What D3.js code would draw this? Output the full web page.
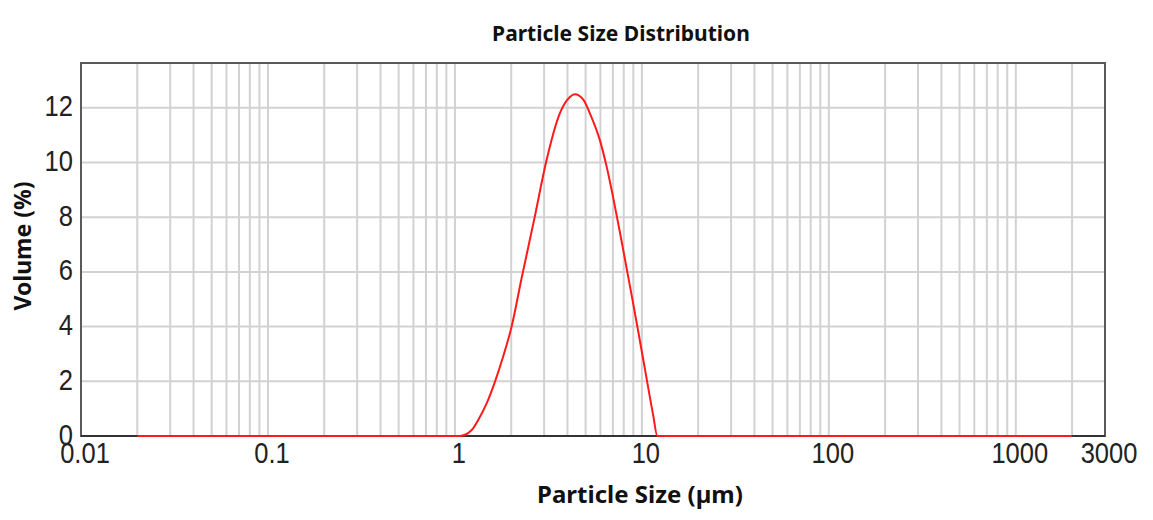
<!DOCTYPE html>
<html>
<head>
<meta charset="utf-8">
<script src="https://cdn.jsdelivr.net/npm/d3@7"></script>
<style>
  body { margin: 0; background: #fff; }
  svg { display: block; }
</style>
</head>
<body>
<svg id="chart" width="1153" height="520"></svg>
<script>
// particle size classes (µm) and volume (%)
const sizes = [0.02, 1.06, 1.23, 1.33, 1.48, 1.64, 1.81, 2.01, 2.27, 2.68, 3.07, 3.64, 4.12, 4.38,
  4.86, 5.27, 5.96, 6.48, 7.03, 7.63, 8.28, 8.98, 9.75, 10.6, 11.5, 12.1, 2000];
const volumes = [0, 0, 0.22, 0.58, 1.2, 2.0, 2.9, 4.0, 5.75, 8.05, 10.0, 11.8, 12.4, 12.5,
  12.3, 11.8, 10.82, 9.85, 8.7, 7.45, 6.15, 4.85, 3.5, 2.1, 0.75, 0, 0];

const xTicks = [0.01, 0.1, 1, 10, 100, 1000, 3000];
const yTicks = [0, 2, 4, 6, 8, 10, 12];
const xDomain = [0.01, 3000];
const yMax = 13.64;

const svg = d3.select('#chart');
const plot = { left: 81, right: 1105, top: 63, bottom: 436 };

const x = d3.scaleLog().domain(xDomain).range([plot.left, plot.right]);
const y = d3.scaleLinear().domain([0, yMax]).range([plot.bottom, plot.top]);

// grid: 1..9 of each decade
const gridX = [];
for (let e = -2; e <= 3; e++) {
  for (let m = 1; m <= 9; m++) {
    const v = m * Math.pow(10, e);
    if (v > xDomain[0] && v < xDomain[1]) gridX.push(v);
  }
}

svg.append('g')
  .selectAll('line')
  .data(gridX)
  .enter()
  .append('line')
  .attr('x1', d => x(d))
  .attr('x2', d => x(d))
  .attr('y1', plot.top)
  .attr('y2', plot.bottom)
  .style('stroke', '#d2d2d2')
  .style('stroke-width', 2);

svg.append('g')
  .selectAll('line')
  .data(yTicks.filter(d => d > 0))
  .enter()
  .append('line')
  .attr('x1', plot.left)
  .attr('x2', plot.right)
  .attr('y1', d => y(d))
  .attr('y2', d => y(d))
  .style('stroke', '#d2d2d2')
  .style('stroke-width', 2);

// frame
svg.append('rect')
  .attr('x', plot.left)
  .attr('y', plot.top)
  .attr('width', plot.right - plot.left)
  .attr('height', plot.bottom - plot.top)
  .style('fill', 'none')
  .style('stroke', '#5a5a5a')
  .style('stroke-width', 2);

svg.append('line')
  .attr('x1', plot.left)
  .attr('x2', plot.right)
  .attr('y1', plot.bottom)
  .attr('y2', plot.bottom)
  .style('stroke', '#333')
  .style('stroke-width', 2);

// the distribution curve
const line = d3.line()
  .x((d, i) => x(sizes[i]))
  .y(d => y(d))
  .curve(d3.curveMonotoneX);

svg.append('path')
  .datum(volumes)
  .attr('d', line)
  .style('fill', 'none')
  .style('stroke', '#ff1a1a')
  .style('stroke-width', 2);

// tick labels
const tickFont = '"Liberation Sans", Arial, sans-serif';

svg.append('g')
  .selectAll('text')
  .data(xTicks)
  .enter()
  .append('text')
  .text(d => d)
  .attr('transform', d => `translate(${x(d) + 4},463) scale(0.88,1)`)
  .attr('text-anchor', 'middle')
  .style('font-family', tickFont)
  .style('font-size', '29px')
  .style('fill', '#222');

svg.append('g')
  .selectAll('text')
  .data(yTicks)
  .enter()
  .append('text')
  .text(d => d)
  .attr('transform', d => `translate(73,${y(d) + 8.5}) scale(0.88,1)`)
  .attr('text-anchor', 'end')
  .style('font-family', tickFont)
  .style('font-size', '29px')
  .style('fill', '#222');

// titles
const titleFont = '"Noto Sans", "Open Sans", sans-serif';

svg.append('text')
  .text('Particle Size Distribution')
  .attr('x', 621)
  .attr('y', 41)
  .attr('text-anchor', 'middle')
  .style('font-family', titleFont)
  .style('font-weight', 'bold')
  .style('font-size', '21px')
  .style('fill', '#111');

svg.append('text')
  .text('Particle Size (µm)')
  .attr('x', 640)
  .attr('y', 503)
  .attr('text-anchor', 'middle')
  .style('font-family', titleFont)
  .style('font-weight', 'bold')
  .style('font-size', '24px')
  .style('fill', '#111');

svg.append('text')
  .text('Volume (%)')
  .attr('transform', 'translate(31,246) rotate(-90)')
  .attr('text-anchor', 'middle')
  .style('font-family', titleFont)
  .style('font-weight', 'bold')
  .style('font-size', '23px')
  .style('fill', '#111');
</script>
</body>
</html>
